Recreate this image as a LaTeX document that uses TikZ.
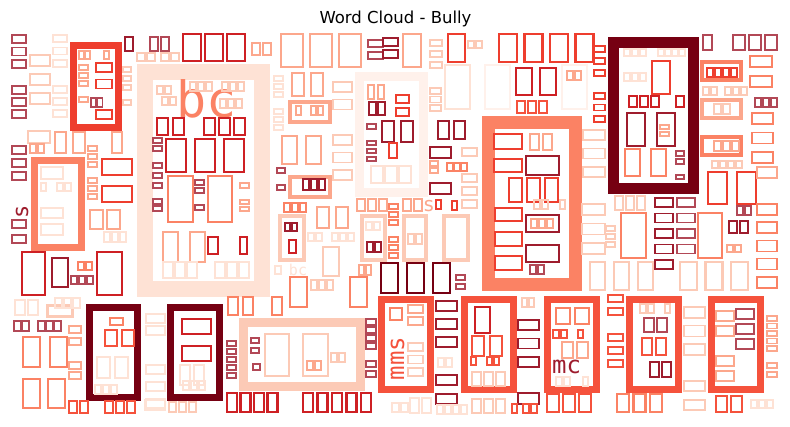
\documentclass[tikz,border=0pt]{standalone}
\usepackage{fontspec}
\setmainfont{DejaVu Sans}
\newfontfamily\cloudfont{DejaVu Sans Mono}

\definecolor{maroon}{RGB}{118,0,18}
\definecolor{wine}{RGB}{158,28,45}
\definecolor{plum}{RGB}{178,72,86}
\definecolor{crimson}{RGB}{206,32,36}
\definecolor{scarlet}{RGB}{238,62,46}
\definecolor{tomato}{RGB}{245,82,60}
\definecolor{salmon}{RGB}{251,130,100}
\definecolor{coral}{RGB}{252,167,140}
\definecolor{peach}{RGB}{252,202,182}
\definecolor{blush}{RGB}{254,226,213}
\definecolor{mist}{RGB}{255,241,235}

\tikzset{
	wordframe/.style={draw=#1, line width=7},
	glyphbox/.style={draw=#1, line width=2.8},
	tinybox/.style={draw=#1, line width=1.6},
	word/.style={text=#1, inner sep=0pt},
}

% a row / a column of empty glyph boxes
\newcommand{\tofurow}[7]{%
	\foreach \k in {1,...,#6}
		\draw[#7] ({#1+(\k-1)*(#5)},#2) rectangle ++(#3,#4);
}
\newcommand{\tofucol}[7]{%
	\foreach \k in {1,...,#6}
		\draw[#7] (#1,{#2+(\k-1)*(#5)}) rectangle ++(#3,#4);
}

\begin{document}
\begin{tikzpicture}[x=1pt, y=-1pt]
	\fill[white] (0,0) rectangle (790,427);
	\useasboundingbox (0,0) rectangle (790,427);

	\node[anchor=base, font=\fontsize{16.5}{20}\selectfont] (title) at (395.5,24) {Word Cloud - Bully};

	% big frames
	\draw[wordframe=blush, line width=16] (145,72) rectangle (262,289);
	\draw[wordframe=mist, line width=9] (359.5,76.5) rectangle (423.5,192.5);
	\draw[wordframe=scarlet] (73.5,45.5) rectangle (118.5,127.5);
	\draw[wordframe=salmon] (34.5,160.5) rectangle (81.5,247.5);
	\draw[wordframe=maroon, line width=11] (613.5,42.5) rectangle (693.5,188.5);
	\draw[wordframe=salmon, line width=13] (488.5,122.5) rectangle (575.5,284.5);
	\draw[wordframe=peach, line width=9] (243.5,322.5) rectangle (360.5,386.5);
	\draw[wordframe=maroon] (89.5,307.5) rectangle (137.5,397.5);
	\draw[wordframe=maroon] (170.5,307.5) rectangle (219.5,397.5);
	\foreach \fx in {381.5,464.5,547.5,629.5,711.5}
		\draw[wordframe=tomato] (\fx,299.5) rectangle ++(49,90);

	% smaller frames
	\draw[wordframe=coral, line width=4] (290,102) rectangle (330,122);
	\draw[wordframe=coral, line width=4] (290,177) rectangle (330,197);
	\draw[wordframe=peach, line width=4] (280,216) rectangle (304,260);
	\draw[wordframe=peach, line width=3.5] (362,216) rectangle (385,260);
	\draw[wordframe=peach, line width=3.5] (404,216) rectangle (426,260);
	\draw[wordframe=peach, line width=3.5] (444,216) rectangle (468,260);
	\draw[wordframe=salmon, line width=4] (702,62) rectangle (741,80);
	\draw[wordframe=coral, line width=4] (702,100) rectangle (741,118);
	\draw[wordframe=salmon, line width=4] (702,137) rectangle (741,155);
	\draw[wordframe=peach, line width=3] (47,306) rectangle (72,317);

	% words
	\node[word=salmon, anchor=base, font=\cloudfont\fontsize{50}{50}\selectfont] (bc) at (207,118) {bc};
	\node[word=blush, anchor=base, font=\cloudfont\fontsize{15}{15}\selectfont] (bcsmall) at (298,276) {bc};
	\node[word=tomato, anchor=base, rotate=90, font=\cloudfont\fontsize{24}{24}\selectfont] (mms) at (404,358.5) {mms};
	\node[word=wine, anchor=base, font=\cloudfont\fontsize{24}{24}\selectfont] (mc) at (566.5,374) {mc};
	\node[word=wine, anchor=base, rotate=90, font=\cloudfont\fontsize{22}{22}\selectfont] (sleft) at (28,212) {s};
	\node[word=coral, anchor=base, font=\cloudfont\fontsize{20}{20}\selectfont] (smid) at (429,212) {s};

	% left edge
	\tofucol{12}{35}{14}{8}{12.5}{3}{tinybox=plum}
	\tofucol{12}{86}{14}{8}{12}{3}{tinybox=plum}
	\tofucol{12}{146}{14}{8}{13}{3}{tinybox=plum}
	\tofucol{12}{220}{14}{8}{15}{2}{tinybox=plum}
	\tofucol{30}{55}{20}{11}{19}{3}{tinybox=peach}
	\draw[tinybox=peach] (28,131) rectangle ++(22,12);
	\tofucol{53}{35}{14}{7}{12.5}{3}{tinybox=blush}
	\tofucol{53}{86}{14}{7}{12}{3}{tinybox=blush}
	\tofurow{30}{144}{6}{9}{8}{2}{tinybox=coral}
	\draw[glyphbox=coral] (55,132) rectangle ++(11,21);
	\draw[glyphbox=coral] (73,132) rectangle ++(12,21);
	\draw[glyphbox=coral] (112,132) rectangle ++(10,21);

	% inside the red frame
	\tofurow{79}{51}{5}{8}{6}{2}{tinybox=coral}
	\draw[tinybox=coral] (104,51) rectangle ++(5,8);
	\tofucol{96}{63}{16}{9}{16.5}{2}{tinybox=scarlet}
	\draw[tinybox=scarlet] (96,110) rectangle ++(16,9);
	\tofucol{79}{65}{9}{5}{8}{3}{tinybox=coral}
	\draw[tinybox=coral] (79,97) rectangle ++(9,5);
	\tofurow{91}{98}{5}{9}{6.5}{2}{tinybox=plum}
	\tofucol{123}{67}{8}{5}{9}{3}{tinybox=peach}
	\draw[tinybox=peach] (123,100) rectangle ++(8,5);

	% inside the salmon frame on the left
	\draw[tinybox=blush] (41,167) rectangle ++(22,12);
	\draw[tinybox=blush] (41,183) rectangle ++(5,8);
	\tofurow{57}{183}{6}{8}{8}{2}{tinybox=blush}
	\draw[tinybox=blush] (41,208) rectangle ++(22,10);
	\draw[tinybox=blush] (41,224) rectangle ++(22,11);
	\tofucol{88}{146}{9}{5}{8}{3}{tinybox=coral}
	\tofucol{88}{178}{9}{5}{8}{3}{tinybox=coral}
	\draw[tinybox=scarlet] (102,159) rectangle ++(30,16);
	\draw[tinybox=scarlet] (102,186) rectangle ++(30,16);
	\tofurow{90}{210}{13}{19}{17}{2}{glyphbox=coral}
	\tofurow{104}{232}{6}{10}{8}{3}{tinybox=blush}

	% top row
	\draw[glyphbox=wine] (125,37) rectangle ++(8,14);
	\tofurow{150}{37}{8}{14}{11}{2}{glyphbox=plum}
	\tofurow{137}{53}{8}{8}{10}{2}{tinybox=peach}
	\tofurow{161}{53}{8}{8}{10}{2}{tinybox=peach}
	\tofurow{183}{34}{18}{27}{22}{3}{glyphbox=crimson}
	\tofurow{252}{43}{8}{12}{11}{2}{tinybox=coral}
	\tofurow{281}{34}{22}{33}{29}{3}{glyphbox=coral}
	\draw[tinybox=plum] (368,40) rectangle ++(15,7);
	\draw[tinybox=wine] (383,38) rectangle ++(15,8);
	\draw[tinybox=plum] (368,52) rectangle ++(15,7);
	\draw[tinybox=wine] (383,50) rectangle ++(15,8);
	\draw[glyphbox=coral] (403,34) rectangle ++(18,33);
	\tofucol{430}{40}{12}{6}{11}{3}{tinybox=peach}
	\draw[glyphbox=scarlet] (448,34) rectangle ++(17,28);
	\tofurow{468}{41}{6}{7}{8}{2}{tinybox=peach}
	\tofurow{499}{34}{18}{28}{25.5}{4}{glyphbox=scarlet}
	\tofucol{594}{46}{11}{6}{12}{3}{tinybox=scarlet}
	\tofucol{594}{93}{11}{6}{11.5}{3}{tinybox=scarlet}

	% inside the bc frame
	\tofurow{190}{82}{6}{9}{8}{3}{tinybox=peach}
	\tofurow{222}{82}{6}{9}{8}{3}{tinybox=peach}
	\tofurow{157}{86}{6}{8}{8}{2}{tinybox=peach}
	\tofurow{162}{97}{6}{8}{8}{2}{tinybox=peach}
	\tofurow{220}{99}{6}{9}{8}{3}{tinybox=peach}
	\tofurow{157}{118}{11}{17}{16}{2}{glyphbox=crimson}
	\tofurow{204}{118}{11}{17}{15}{3}{glyphbox=crimson}
	\tofurow{166}{139}{20}{33}{29}{3}{glyphbox=crimson}
	\tofucol{153}{138}{9}{5}{8}{2}{tinybox=plum}
	\tofucol{153}{163}{9}{5}{10}{3}{tinybox=plum}
	\tofucol{153}{199}{9}{5}{7}{2}{tinybox=plum}
	\draw[glyphbox=salmon] (168,176) rectangle ++(25,46);
	\draw[glyphbox=salmon] (208,176) rectangle ++(24,46);
	\tofucol{195}{180}{9}{5}{8}{2}{tinybox=plum}
	\draw[tinybox=plum] (195,205) rectangle ++(9,5);
	\draw[tinybox=coral] (240,183) rectangle ++(9,5);
	\tofucol{240}{200}{9}{4}{7}{2}{tinybox=coral}
	\tofurow{163}{232}{15}{30}{27}{2}{glyphbox=coral}
	\draw[tinybox=crimson] (208,237) rectangle ++(10,17);
	\draw[tinybox=crimson] (240,237) rectangle ++(7,17);
	\tofurow{163}{262}{10}{16}{12}{3}{tinybox=blush}
	\tofurow{215}{262}{10}{16}{12}{3}{tinybox=blush}

	% between bc and the pale frame
	\tofucol{274}{76}{9}{5}{8}{3}{tinybox=blush}
	\tofucol{274}{109}{9}{5}{8}{3}{tinybox=blush}
	\tofurow{292}{73}{12}{23}{19}{2}{glyphbox=coral}
	\tofucol{333}{82}{19}{10}{17.5}{2}{tinybox=peach}
	\draw[tinybox=coral] (296,106) rectangle ++(5,9);
	\tofurow{311}{106}{5}{9}{7}{2}{tinybox=coral}
	\tofurow{282}{136}{15}{28}{24}{2}{glyphbox=coral}
	\tofucol{333}{135}{19}{10}{17.5}{3}{tinybox=peach}
	\tofucol{277}{168}{8}{5}{17}{2}{tinybox=plum}
	\tofurow{303}{179}{6}{11}{8}{3}{tinybox=wine}
	\tofurow{284}{203}{6}{9}{8}{3}{tinybox=salmon}
	\tofurow{317}{207}{12}{21}{19}{2}{glyphbox=coral}
	\tofurow{285}{223}{5}{8}{7}{2}{tinybox=wine}
	\draw[tinybox=crimson] (289,240) rectangle ++(7,13);
	\tofurow{308}{233}{6}{8}{8}{2}{tinybox=blush}
	\tofurow{332}{233}{6}{8}{8}{3}{tinybox=blush}
	\draw[glyphbox=peach] (323,247) rectangle ++(16,29);
	\draw[tinybox=blush] (275,266) rectangle ++(6,8);
	\tofurow{359}{265}{5}{10}{7}{2}{tinybox=coral}
	\draw[glyphbox=salmon] (290,277) rectangle ++(17,30);
	\draw[glyphbox=salmon] (350,277) rectangle ++(17,30);
	\tofurow{311}{280}{6}{10}{8}{3}{tinybox=peach}
	\tofurow{228}{297}{10}{18}{15}{2}{glyphbox=salmon}
	\draw[glyphbox=salmon] (272,297) rectangle ++(10,18);

	% inside the pale frame
	\tofurow{368}{85}{6}{14}{10}{2}{tinybox=coral}
	\tofucol{396}{95}{13}{8}{13}{2}{tinybox=scarlet}
	\tofurow{369}{102}{7}{13}{9}{2}{tinybox=wine}
	\tofurow{382}{121}{12}{21}{19}{2}{glyphbox=wine}
	\draw[tinybox=plum] (367,124) rectangle ++(9,5);
	\tofucol{367}{141}{9}{4}{8}{3}{tinybox=plum}
	\draw[tinybox=scarlet] (389,143) rectangle ++(8,15);
	\tofurow{371}{166}{12}{17}{14}{3}{tinybox=blush}
	\tofurow{438}{121}{11}{18}{16}{2}{glyphbox=wine}
	\draw[tinybox=wine] (430,147) rectangle ++(21,11);
	\draw[tinybox=wine] (430,183) rectangle ++(21,11);
	\tofucol{430}{161}{8}{5}{7}{2}{tinybox=coral}
	\tofurow{447}{163}{6}{8}{7}{3}{tinybox=salmon}
	\draw[tinybox=peach] (462,148) rectangle ++(15,8);
	\tofucol{462}{174}{15}{8}{13}{3}{tinybox=peach}
	\tofurow{357}{199}{8}{12}{11}{3}{tinybox=coral}
	\tofurow{403}{199}{8}{12}{11}{2}{tinybox=coral}
	\draw[tinybox=scarlet] (436,200) rectangle ++(5,9);
	\draw[tinybox=scarlet] (452,201) rectangle ++(5,9);
	\tofucol{389}{204}{9}{5}{8}{3}{tinybox=salmon}
	\tofucol{389}{237}{9}{5}{8}{3}{tinybox=salmon}
	\tofurow{366}{222}{6}{8}{8}{2}{tinybox=blush}
	\tofurow{367}{242}{6}{10}{8}{2}{tinybox=wine}
	\tofurow{408}{234}{6}{10}{8}{2}{tinybox=peach}
	\tofurow{381}{263}{17}{30}{26}{3}{glyphbox=maroon}
	\tofucol{456}{275}{9}{5}{9}{2}{tinybox=plum}

	% above and inside the salmon frame
	\tofucol{430}{88}{11}{6}{8.5}{3}{tinybox=peach}
	\draw[glyphbox=blush] (445,65) rectangle ++(25,44);
	\draw[glyphbox=mist] (485,65) rectangle ++(25,44);
	\draw[glyphbox=mist] (562,65) rectangle ++(25,44);
	\tofurow{516}{68}{16}{27}{24}{2}{glyphbox=crimson}
	\tofurow{567}{71}{6}{9}{8}{2}{tinybox=coral}
	\tofurow{517}{101}{8}{12}{11}{3}{tinybox=tomato}
	\tofucol{583}{130}{22}{10}{18.5}{3}{tinybox=peach}
	\draw[tinybox=scarlet] (494,134) rectangle ++(28,15);
	\tofurow{530}{134}{9}{16}{13}{2}{glyphbox=coral}
	\draw[tinybox=scarlet] (494,159) rectangle ++(28,13);
	\draw[glyphbox=wine] (526,156) rectangle ++(33,19);
	\tofurow{509}{178}{13}{24}{18}{3}{glyphbox=scarlet}
	\tofurow{534}{200}{6}{9}{8}{2}{tinybox=peach}
	\draw[tinybox=peach] (560,200) rectangle ++(5,9);
	\draw[tinybox=scarlet] (495,208) rectangle ++(27,13);
	\tofucol{495}{232}{27}{14}{24}{2}{tinybox=scarlet}
	\draw[glyphbox=wine] (526,215) rectangle ++(33,17);
	\tofurow{531}{219}{6}{9}{8}{3}{tinybox=coral}
	\draw[glyphbox=wine] (526,245) rectangle ++(33,17);
	\tofurow{530}{265}{6}{9}{8}{2}{tinybox=plum}

	% inside the dark frame on the right
	\tofurow{624}{49}{6}{7}{8}{3}{tinybox=blush}
	\tofurow{658}{49}{6}{7}{7}{4}{tinybox=blush}
	\tofurow{624}{73}{6}{8}{8}{3}{tinybox=blush}
	\draw[glyphbox=scarlet] (652,61) rectangle ++(18,33);
	\tofurow{629}{96}{8}{11}{11}{3}{tinybox=crimson}
	\draw[tinybox=crimson] (676,96) rectangle ++(8,11);
	\tofurow{627}{113}{18}{33}{30}{2}{glyphbox=wine}
	\tofucol{660}{125}{9}{4}{7}{2}{tinybox=coral}
	\tofurow{625}{149}{15}{27}{26}{2}{glyphbox=salmon}
	\tofucol{676}{151}{8}{5}{8}{2}{tinybox=plum}
	\draw[tinybox=plum] (676,175) rectangle ++(8,4);

	% right edge
	\draw[glyphbox=plum] (703,35) rectangle ++(9,15);
	\tofurow{733}{35}{12}{15}{16}{3}{glyphbox=plum}
	\tofurow{707}{68}{6}{9}{8}{4}{tinybox=scarlet}
	\tofucol{750}{56}{22}{11}{20}{2}{tinybox=salmon}
	\tofurow{703}{87}{6}{8}{8}{2}{tinybox=peach}
	\tofurow{725}{87}{6}{8}{8}{3}{tinybox=peach}
	\tofurow{714}{104}{7}{10}{9}{2}{tinybox=peach}
	\tofurow{755}{98}{6}{9}{8}{3}{tinybox=plum}
	\tofurow{714}{141}{7}{10}{9}{3}{tinybox=coral}
	\tofucol{752}{113}{21}{11}{19.5}{3}{tinybox=salmon}
	\tofurow{712}{161}{6}{7}{8}{4}{tinybox=peach}
	\tofurow{708}{172}{19}{32}{29}{2}{glyphbox=scarlet}
	\draw[tinybox=coral] (757,167) rectangle ++(20,11);
	\tofurow{737}{206}{6}{9}{8}{2}{tinybox=plum}
	\tofucol{757}{204}{20}{11}{18.2}{5}{tinybox=salmon}
	\tofurow{729}{221}{8}{12}{11}{2}{tinybox=wine}
	\tofurow{727}{245}{6}{7}{8}{2}{tinybox=coral}

	% under the dark frame
	\tofurow{615}{196}{8}{14}{11}{3}{tinybox=peach}
	\tofucol{655}{198}{18}{9}{15.5}{5}{tinybox=wine}
	\tofucol{677}{198}{18}{9}{15.5}{4}{tinybox=plum}
	\draw[glyphbox=salmon] (621,213) rectangle ++(25,45);
	\draw[glyphbox=salmon] (698,213) rectangle ++(24,45);
	\tofucol{582}{204}{23}{11}{19.5}{3}{tinybox=peach}
	\tofucol{606}{226}{9}{5}{8}{3}{tinybox=peach}
	\tofurow{590}{262}{15}{28}{24}{3}{glyphbox=peach}
	\tofurow{680}{262}{17}{28}{25.5}{3}{glyphbox=peach}

	% lower left
	\draw[glyphbox=crimson] (22,252) rectangle ++(23,43);
	\draw[glyphbox=wine] (52,258) rectangle ++(16,29);
	\tofurow{78}{262}{6}{8}{8}{2}{tinybox=salmon}
	\tofurow{71}{276}{6}{8}{8}{3}{tinybox=plum}
	\draw[glyphbox=crimson] (97,252) rectangle ++(25,43);
	\tofurow{55}{298}{7}{10}{9}{3}{tinybox=blush}
	\tofurow{15}{300}{10}{15}{13}{2}{tinybox=blush}
	\tofurow{14}{321}{7}{10}{8}{2}{tinybox=plum}
	\tofurow{38}{321}{7}{10}{8}{3}{tinybox=plum}
	\tofurow{23}{337}{17}{30}{27}{2}{glyphbox=salmon}
	\tofurow{23}{379}{17}{29}{25}{2}{glyphbox=salmon}
	\tofucol{69}{326}{12}{7}{12}{2}{tinybox=coral}
	\tofucol{69}{362}{12}{7}{10}{2}{tinybox=coral}
	\draw[tinybox=salmon] (110,318) rectangle ++(13,7);
	\tofurow{105}{330}{12}{16}{17}{2}{tinybox=tomato}
	\tofurow{97}{357}{13}{21}{18}{2}{tinybox=blush}
	\tofurow{95}{385}{6}{9}{8}{3}{tinybox=blush}
	\draw[glyphbox=crimson] (182,319) rectangle ++(29,15);
	\draw[glyphbox=crimson] (182,346) rectangle ++(29,15);
	\tofurow{180}{365}{10}{20}{14}{2}{tinybox=blush}
	\tofurow{183}{381}{6}{9}{8}{3}{tinybox=blush}
	\tofucol{146}{314}{19}{9}{12}{2}{tinybox=blush}
	\tofucol{146}{365}{19}{9}{17}{3}{tinybox=blush}
	\tofucol{227}{341}{9}{5}{8}{5}{tinybox=plum}

	% inside the peach frame
	\tofucol{251}{338}{8}{5}{10}{2}{tinybox=plum}
	\draw[tinybox=plum] (253,364) rectangle ++(7,6);
	\draw[glyphbox=peach] (265,334) rectangle ++(24,42);
	\draw[glyphbox=peach] (303,334) rectangle ++(25,42);
	\tofurow{307}{361}{6}{9}{8}{2}{tinybox=coral}
	\tofurow{331}{353}{6}{9}{8}{2}{tinybox=peach}
	\tofucol{366}{319}{10}{6}{8}{4}{tinybox=plum}
	\tofucol{366}{361}{10}{6}{10}{2}{tinybox=plum}

	% inside the bottom frames
	\draw[tinybox=salmon] (390,308) rectangle ++(12,12);
	\tofucol{408}{305}{15}{8}{12}{2}{tinybox=coral}
	\tofucol{408}{343}{15}{8}{12.5}{3}{tinybox=peach}
	\tofucol{436}{301}{21}{10}{18}{3}{tinybox=wine}
	\tofurow{438}{358}{6}{9}{8}{2}{tinybox=blush}
	\tofucol{436}{375}{21}{10}{19}{2}{tinybox=wine}
	\draw[glyphbox=crimson] (475,307) rectangle ++(15,26);
	\tofurow{472}{336}{12}{20}{18}{2}{tinybox=tomato}
	\draw[tinybox=tomato] (471,357) rectangle ++(5,8);
	\tofurow{487}{357}{5}{8}{7}{2}{tinybox=tomato}
	\tofurow{472}{372}{9}{14}{12}{3}{tinybox=peach}
	\tofurow{522}{298}{5}{9}{7}{2}{tinybox=peach}
	\tofucol{518}{320}{21}{10}{18.5}{3}{tinybox=wine}
	\draw[tinybox=wine] (518,393) rectangle ++(21,11);
	\tofurow{556}{308}{14}{16}{19}{2}{glyphbox=salmon}
	\tofurow{553}{330}{6}{8}{8}{2}{tinybox=tomato}
	\draw[tinybox=tomato] (578,330) rectangle ++(5,8);
	\tofurow{562}{342}{11}{16}{15}{2}{glyphbox=coral}
	\tofurow{556}{377}{6}{9}{8}{2}{tinybox=blush}
	\draw[tinybox=blush] (583,377) rectangle ++(5,9);
	\tofucol{608}{295}{15}{7}{13}{2}{tinybox=tomato}
	\tofucol{608}{334}{15}{7}{13}{3}{tinybox=tomato}
	\tofurow{640}{304}{6}{9}{8}{2}{tinybox=peach}
	\draw[tinybox=peach] (665,304) rectangle ++(5,9);
	\tofurow{644}{318}{10}{14}{13}{2}{tinybox=plum}
	\tofurow{642}{338}{10}{17}{14}{2}{tinybox=tomato}
	\tofurow{650}{362}{9}{15}{12}{2}{tinybox=wine}
	\tofucol{684}{307}{21}{11}{18.5}{3}{tinybox=peach}
	\tofucol{684}{381}{21}{10}{19}{2}{tinybox=peach}
	\tofucol{716}{311}{18}{10}{15}{2}{tinybox=coral}
	\tofucol{736}{309}{18}{10}{15}{3}{tinybox=plum}
	\tofucol{716}{356}{18}{10}{15}{2}{tinybox=coral}
	\tofucol{767}{316}{10}{5}{7.5}{5}{tinybox=coral}
	\tofucol{767}{363}{10}{5}{9}{2}{tinybox=coral}

	% bottom row
	\tofurow{69}{401}{8}{12}{11}{2}{tinybox=tomato}
	\tofurow{105}{401}{8}{12}{11}{3}{tinybox=tomato}
	\draw[tinybox=blush] (145,400) rectangle ++(20,10);
	\tofurow{169}{402}{7}{10}{10}{3}{tinybox=peach}
	\tofurow{227}{393}{10}{19}{13.5}{4}{glyphbox=crimson}
	\tofurow{303}{393}{10}{19}{14.5}{5}{glyphbox=crimson}
	\tofurow{392}{403}{7}{9}{9}{2}{tinybox=blush}
	\tofurow{410}{398}{9}{15}{12}{2}{tinybox=blush}
	\tofurow{437}{405}{6}{9}{8}{4}{tinybox=blush}
	\tofurow{472}{399}{9}{14}{12}{3}{tinybox=peach}
	\draw[tinybox=tomato] (512,404) rectangle ++(5,9);
	\tofurow{523}{404}{6}{9}{8}{2}{tinybox=tomato}
	\tofurow{547}{394}{12}{18}{16}{3}{glyphbox=tomato}
	\tofurow{617}{394}{12}{18}{16.5}{3}{glyphbox=salmon}
	\tofurow{716}{396}{11}{16}{15}{2}{glyphbox=tomato}
	\tofurow{751}{400}{6}{8}{8}{3}{tinybox=blush}
\end{tikzpicture}
\end{document}
